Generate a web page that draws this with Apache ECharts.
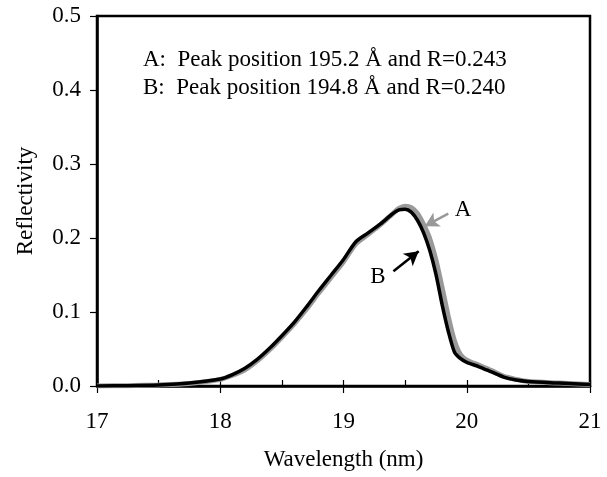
<!DOCTYPE html>
<html>
<head>
<meta charset="utf-8">
<script src="https://cdn.jsdelivr.net/npm/echarts@6/dist/echarts.min.js"></script>
<style>html,body{margin:0;padding:0;background:#fff;}#c{width:607px;height:477px;}</style>
</head>
<body>
<div id="c"></div>
<script>
var wavelength = [17.0, 17.25, 17.5, 17.75, 18.0, 18.1, 18.2, 18.3, 18.4, 18.5, 18.6, 18.7, 18.8, 18.9, 19.0, 19.1, 19.2, 19.3, 19.4, 19.45, 19.5, 19.55, 19.6, 19.65, 19.7, 19.75, 19.8, 19.85, 19.9, 19.95, 20.0, 20.1, 20.2, 20.3, 20.4, 20.5, 20.75, 21.0];
var reflA = [0.000, 0.0005, 0.0015, 0.0035, 0.009, 0.0145, 0.022, 0.034, 0.049, 0.066, 0.084, 0.104, 0.126, 0.147, 0.168, 0.192, 0.205, 0.218, 0.233, 0.240, 0.243, 0.241, 0.233, 0.218, 0.199, 0.170, 0.133, 0.094, 0.061, 0.042, 0.035, 0.028, 0.021, 0.013, 0.009, 0.006, 0.004, 0.002];
var reflB = [0.000, 0.0005, 0.0015, 0.004, 0.0095, 0.0155, 0.024, 0.036, 0.051, 0.068, 0.086, 0.107, 0.129, 0.150, 0.171, 0.195, 0.207, 0.219, 0.233, 0.238, 0.239, 0.235, 0.224, 0.207, 0.183, 0.151, 0.110, 0.074, 0.046, 0.037, 0.032, 0.026, 0.019, 0.012, 0.008, 0.006, 0.004, 0.002];
var xTicks = [17, 18, 19, 20, 21];
var yTicks = [0.0, 0.1, 0.2, 0.3, 0.4, 0.5];
var noteLines = ['A:  Peak position 195.2 \u00C5 and R=0.243', 'B:  Peak position 194.8 \u00C5 and R=0.240'];
var arrowA = [[19.85, 0.233], [19.66, 0.216]];
var arrowB = [[19.405, 0.155], [19.61, 0.182]];
var labelA = [19.97, 0.238];
var labelB = [19.28, 0.148];

var FONT = '"Liberation Serif", "Times New Roman", serif';
var chart = echarts.init(document.getElementById('c'), null, {renderer: 'canvas'});
function pairs(xs, ys) { return xs.map(function (x, i) { return [x, ys[i]]; }); }

chart.setOption({
  animation: false,
  backgroundColor: '#fff',
  grid: {left: 97, right: 17, top: 16, bottom: 91, show: true, borderColor: '#000', borderWidth: 2.5, backgroundColor: 'transparent'},
  xAxis: [{
    type: 'value', position: 'bottom', min: xTicks[0], max: xTicks[xTicks.length - 1], interval: 1,
    name: 'Wavelength (nm)', nameLocation: 'middle', nameGap: 62,
    nameTextStyle: {fontFamily: FONT, fontSize: 23, color: '#000'},
    axisLine: {show: true, lineStyle: {color: '#000', width: 2.5}},
    axisTick: {show: true, inside: false, length: 7, lineStyle: {color: '#000', width: 1.2}},
    axisLabel: {fontFamily: FONT, fontSize: 23, color: '#000', margin: 24},
    splitLine: {show: false}
  }, {
    type: 'value', position: 'bottom', min: xTicks[0], max: xTicks[xTicks.length - 1], interval: 0.5,
    axisLine: {show: false},
    axisTick: {show: true, inside: true, length: 6, lineStyle: {color: '#000', width: 1.2}},
    axisLabel: {show: false},
    splitLine: {show: false}
  }],
  yAxis: {
    type: 'value', min: yTicks[0], max: yTicks[yTicks.length - 1], interval: 0.1,
    name: 'Reflectivity', nameLocation: 'middle', nameGap: 60,
    nameTextStyle: {fontFamily: FONT, fontSize: 23, color: '#000'},
    axisLine: {show: true, lineStyle: {color: '#000', width: 2.5}},
    axisTick: {show: true, inside: false, length: 7, lineStyle: {color: '#000', width: 1.2}},
    axisLabel: {fontFamily: FONT, fontSize: 23, color: '#000', margin: 16, formatter: function (v) { return v.toFixed(1); }},
    splitLine: {show: false}
  },
  graphic: noteLines.map(function (t, i) {
    return {type: 'text', left: 143, top: 48 + i * 28, style: {text: t, fontFamily: FONT, fontSize: 23, fill: '#000'}};
  }),
  series: [{
    name: 'A', type: 'line', data: pairs(wavelength, reflA), smooth: 0.25, showSymbol: false,
    lineStyle: {color: '#999999', width: 5}, z: 2,
    markLine: {silent: true, symbol: ['none', 'arrow'], symbolSize: [12, 14], label: {show: false},
      lineStyle: {color: '#999999', width: 2.5, type: 'solid'},
      data: [[{coord: arrowA[0]}, {coord: arrowA[1]}]]}
  }, {
    name: 'B', type: 'line', data: pairs(wavelength, reflB), smooth: 0.25, showSymbol: false,
    lineStyle: {color: '#000', width: 3.5}, z: 3,
    markLine: {silent: true, symbol: ['none', 'arrow'], symbolSize: [12, 14], label: {show: false},
      lineStyle: {color: '#000', width: 2.5, type: 'solid'},
      data: [[{coord: arrowB[0]}, {coord: arrowB[1]}]]}
  }, {
    type: 'scatter', symbolSize: 0, silent: true, z: 4,
    itemStyle: {opacity: 1},
    data: [{value: labelA, name: 'A'}, {value: labelB, name: 'B'}],
    label: {show: true, position: 'inside', formatter: '{b}', fontFamily: FONT, fontSize: 23, color: '#000', opacity: 1}
  }]
});
</script>
</body>
</html>
